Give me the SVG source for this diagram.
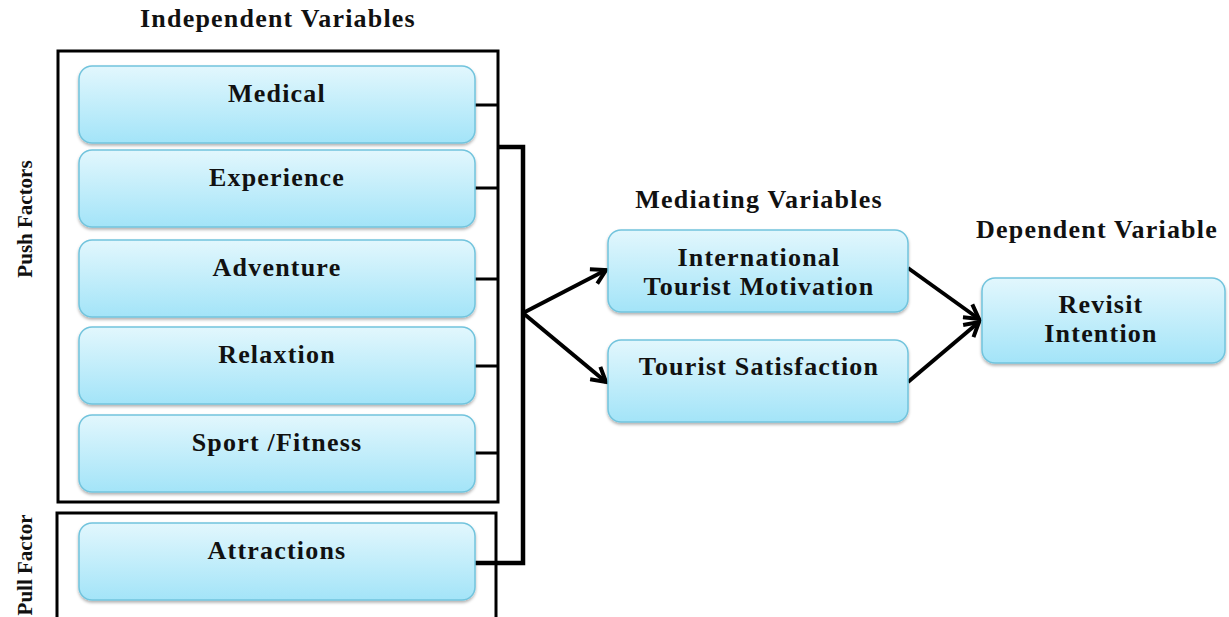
<svg xmlns="http://www.w3.org/2000/svg" width="1229" height="617" viewBox="0 0 1229 617">
<defs>
<linearGradient id="g" x1="0" y1="0" x2="0" y2="1">
<stop offset="0" stop-color="#e2f7fd"/>
<stop offset="1" stop-color="#a3e4f8"/>
</linearGradient>
<filter id="sh" x="-5%" y="-10%" width="110%" height="130%">
<feDropShadow dx="0" dy="2" stdDeviation="1.5" flood-color="#000" flood-opacity="0.3"/>
</filter>
<marker id="ah" viewBox="0 0 20 20" refX="17" refY="10" markerWidth="20" markerHeight="20" orient="auto" markerUnits="userSpaceOnUse">
<path d="M3,2 L17,10 L3,18" fill="none" stroke="#000" stroke-width="4" stroke-linejoin="miter"/>
</marker>
</defs>
<style>
.n{fill:url(#g);stroke:#72c4dd;stroke-width:1.5;filter:url(#sh)}
.t{font-family:"Liberation Serif",serif;font-weight:bold;font-size:26px;letter-spacing:1.2px;fill:#111;text-anchor:middle}
.h{font-family:"Liberation Serif",serif;font-weight:bold;font-size:26px;letter-spacing:1.2px;fill:#111;text-anchor:middle}
.v{font-family:"Liberation Serif",serif;font-weight:bold;font-size:21px;fill:#111;text-anchor:middle}
.frame{fill:none;stroke:#000;stroke-width:3}
.c{fill:none;stroke:#000;stroke-width:3}
.b{fill:none;stroke:#000;stroke-width:4.5}
.a{fill:none;stroke:#000;stroke-width:4}
</style>
<rect width="1229" height="617" fill="#fff"/>
<g id="headings">
<text class="h" x="278" y="27">Independent Variables</text>
<text class="h" x="759" y="208">Mediating Variables</text>
<text class="h" x="1097" y="238">Dependent Variable</text>
<text class="v" transform="translate(32,219) rotate(-90)">Push Factors</text>
<text class="v" transform="translate(32,565) rotate(-90)">Pull Factor</text>
</g>
<g id="push-frame"><rect class="frame" x="58" y="51" width="440" height="451"/></g>
<g id="pull-frame"><rect class="frame" x="57" y="513" width="439" height="110"/></g>
<g id="connectors">
<path class="c" d="M475,105 H498 M475,188 H498 M475,279 H498 M475,366 H498 M475,453 H498"/>
<path class="b" d="M498,147 H523 V563 H475"/>
<path class="a" d="M523,313 L606,270" marker-end="url(#ah)"/>
<path class="a" d="M523,313 L606,382" marker-end="url(#ah)"/>
<path class="a" d="M908,268 L979,319" marker-end="url(#ah)"/>
<path class="a" d="M908,382 L979,322" marker-end="url(#ah)"/>
</g>
<g id="medical"><rect class="n" x="79" y="66" width="396" height="77" rx="13"/><text class="t" x="277" y="102">Medical</text></g>
<g id="experience"><rect class="n" x="79" y="150" width="396" height="77" rx="13"/><text class="t" x="277" y="186">Experience</text></g>
<g id="adventure"><rect class="n" x="79" y="240" width="396" height="77" rx="13"/><text class="t" x="277" y="276">Adventure</text></g>
<g id="relaxtion"><rect class="n" x="79" y="327" width="396" height="77" rx="13"/><text class="t" x="277" y="363">Relaxtion</text></g>
<g id="sport"><rect class="n" x="79" y="415" width="396" height="77" rx="13"/><text class="t" x="277" y="451">Sport /Fitness</text></g>
<g id="attractions"><rect class="n" x="79" y="523" width="396" height="77" rx="13"/><text class="t" x="277" y="559">Attractions</text></g>
<g id="itm"><rect class="n" x="608" y="230" width="300" height="82" rx="13"/><text class="t" x="759" y="266">International</text><text class="t" x="759" y="295">Tourist Motivation</text></g>
<g id="ts"><rect class="n" x="608" y="340" width="300" height="82" rx="13"/><text class="t" x="759" y="375">Tourist Satisfaction</text></g>
<g id="revisit"><rect class="n" x="982" y="278" width="243" height="85" rx="13"/><text class="t" x="1101" y="313">Revisit</text><text class="t" x="1101" y="342">Intention</text></g>
</svg>
